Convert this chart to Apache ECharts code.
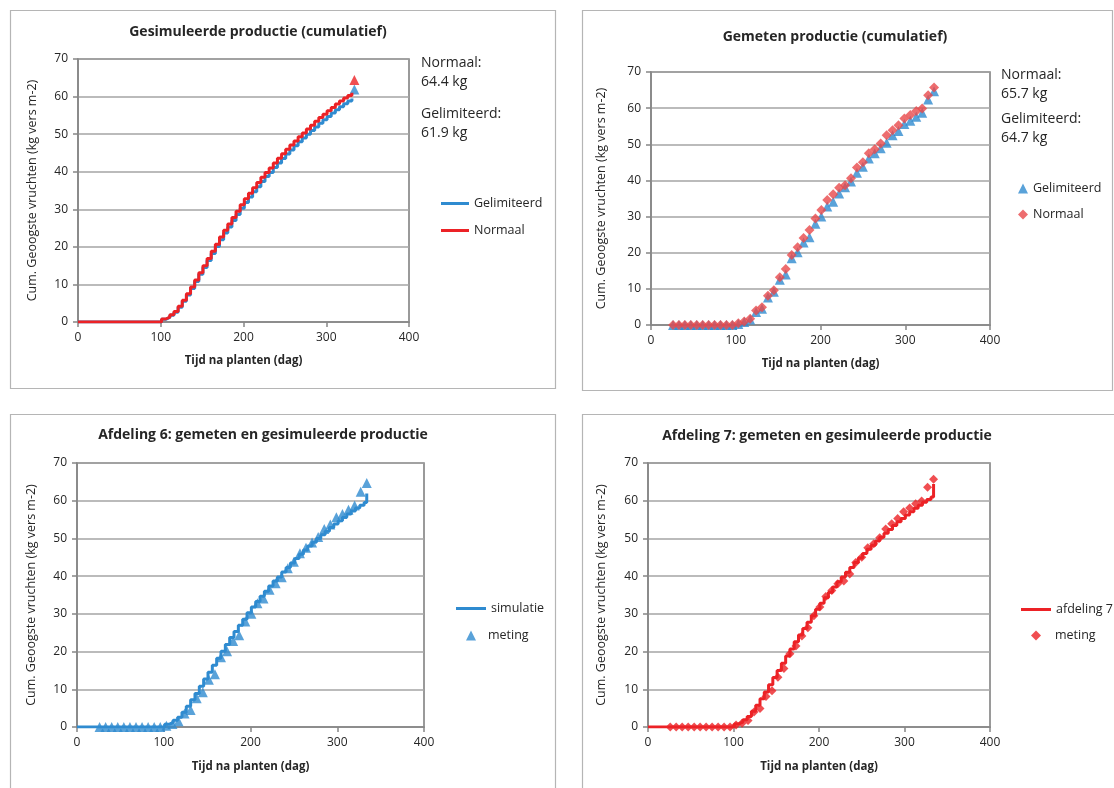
<!DOCTYPE html>
<html><head><meta charset="utf-8">
<script src="https://cdn.jsdelivr.net/npm/echarts@6/dist/echarts.min.js"></script>
<style>html,body{margin:0;padding:0;background:#fff}#c{width:1114px;height:788px}</style>
</head><body><div id="c"></div>
<script>
// ---- data ----
const xTicks = [0, 100, 200, 300, 400];
const yTicks = [0, 10, 20, 30, 40, 50, 60, 70];
// simulated cumulative harvest (stepwise, harvest every 5 days)
const simDays = [0,101,106,111,116,121,126,131,136,141,146,151,156,161,166,171,176,181,186,191,196,201,206,211,216,221,226,231,236,241,246,251,256,261,266,271,276,281,286,291,296,301,306,311,316,321,326,331];
const simNormaal = [0,0.8,1.3,1.9,2.8,4.2,5.8,7.5,9.3,11.2,13.1,15.0,16.9,18.8,20.7,22.6,24.4,26.1,27.8,29.5,31.2,32.8,34.3,35.7,37.1,38.5,39.8,41.0,42.3,43.6,44.8,46.0,47.1,48.2,49.3,50.3,51.4,52.4,53.4,54.4,55.3,56.2,57.1,58.0,58.8,59.6,60.3,61.0];
const simGelimiteerd = [0,0.7,1.2,1.8,2.6,3.9,5.5,7.2,8.9,10.8,12.7,14.5,16.4,18.2,20.1,21.9,23.7,25.3,27.0,28.6,30.3,31.8,33.3,34.7,36.0,37.4,38.7,39.8,41.1,42.3,43.5,44.7,45.8,46.9,48.0,49.0,50.0,51.0,51.9,52.9,53.8,54.7,55.6,56.5,57.3,58.1,58.8,59.5];
const finalDay = 334;
const finalNormaal = 64.4;
const finalGelimiteerd = 61.9;
// measurements (weekly)
const metDays = [26,33,40,47,54,61,68,75,82,89,96,103,110,117,124,131,138,145,152,159,166,173,180,187,194,201,208,215,222,229,236,243,250,257,264,271,278,285,292,299,306,313,320,327,334];
const metNormaal = [0,0,0,0,0,0,0,0,0,0,0,0.5,1.0,1.7,4.0,4.9,8.1,9.6,13.2,15.5,19.4,21.5,24.1,26.3,29.5,31.8,34.6,36.2,38.0,38.7,40.6,43.6,45.0,47.5,48.6,50.2,52.5,53.9,55.3,57.1,58.1,59.2,59.9,63.6,65.7];
const metGelimiteerd = [0,0,0,0,0,0,0,0,0,0,0,0.3,0.8,1.5,3.6,4.5,7.6,9.2,12.5,14.0,18.5,20.1,22.8,24.3,28.0,30.0,32.8,34.1,36.4,38.1,39.7,42.1,43.8,46.1,47.5,48.9,50.4,52.5,53.7,55.6,56.5,57.6,58.7,62.4,64.7];

const titles = ['Gesimuleerde productie (cumulatief)','Gemeten productie (cumulatief)','Afdeling 6: gemeten en gesimuleerde productie','Afdeling 7: gemeten en gesimuleerde productie'];
const xName = 'Tijd na planten (dag)';
const yName = 'Cum. Geoogste vruchten (kg vers m-2)';

// ---- helpers ----
const zip = (xs, ys) => xs.map((x, i) => [x, ys[i]]);
const FONT = 'Open Sans';
const TXT = '#262626';
const BLUE = '#2f8bd0', RED = '#ec2226', RED_M = '#e9484b';
const grids = [
  {left: 78, top: 59, width: 331, height: 263},
  {left: 651, top: 72, width: 339, height: 253},
  {left: 77, top: 463, width: 347, height: 264},
  {left: 648, top: 463, width: 342, height: 264}
];
const yGaps = [39, 43, 39, 40];
const xGaps = [33, 33, 34, 34];
const legText = {fontFamily: FONT, fontSize: 12.5, color: TXT};

const option = {
  animation: false,
  textStyle: {fontFamily: FONT},
  title: [
    {text: titles[0], left: 253, top: 20},
    {text: titles[1], left: 830, top: 25},
    {text: titles[2], left: 258, top: 423},
    {text: titles[3], left: 822, top: 424}
  ].map(t => Object.assign(t, {textAlign: 'center', textStyle: {fontFamily: FONT, fontWeight: 'bold', fontSize: 14, color: TXT}})),
  grid: grids.map(g => Object.assign({}, g, {show: true, borderColor: '#7a7a7a', borderWidth: 1.5, backgroundColor: 'transparent', containLabel: false})),
  xAxis: grids.map((g, i) => ({
    gridIndex: i, type: 'value', min: 0, max: 400, interval: 100,
    name: xName, nameLocation: 'middle', nameGap: xGaps[i],
    nameTextStyle: {fontFamily: FONT, fontWeight: 'bold', fontSize: 11.5, color: TXT},
    axisLine: {show: true, lineStyle: {color: '#868686', width: 1.5}},
    axisTick: {show: true, length: 5, lineStyle: {color: '#868686', width: 1.5}},
    axisLabel: {fontFamily: FONT, fontSize: 12, color: TXT, margin: 10},
    splitLine: {show: false}
  })),
  yAxis: grids.map((g, i) => ({
    gridIndex: i, type: 'value', min: 0, max: 70, interval: 10,
    name: yName, nameLocation: 'middle', nameGap: yGaps[i], nameRotate: 90,
    nameTextStyle: {fontFamily: FONT, fontSize: 12.5, color: TXT},
    axisLine: {show: true, lineStyle: {color: '#868686', width: 1.5}},
    axisTick: {show: true, length: 5, lineStyle: {color: '#868686', width: 1.5}},
    axisLabel: {fontFamily: FONT, fontSize: 12, color: TXT, margin: 10},
    splitLine: {show: true, lineStyle: {color: '#a4a4a4', width: 1.5}}
  })),
  legend: [
    {data: [{name: 'Gelimiteerd', icon: 'rect'}, {name: 'Normaal', icon: 'rect'}], left: 441, top: 197, padding: 0, orient: 'vertical', itemWidth: 28, itemHeight: 3, itemGap: 14, textStyle: legText},
    {data: [{name: 'Gelimiteerd ', icon: 'triangle'}, {name: 'Normaal ', icon: 'diamond'}], left: 1018, top: 182, padding: 0, orient: 'vertical', itemWidth: 10, itemHeight: 10, itemGap: 13, textStyle: legText},
    {data: [{name: 'simulatie', icon: 'rect'}], left: 456, top: 602, padding: 0, itemWidth: 30, itemHeight: 3, textStyle: legText},
    {data: [{name: 'meting', icon: 'triangle'}], left: 466, top: 629, padding: 0, itemWidth: 10, itemHeight: 10, textStyle: Object.assign({padding: [0, 0, 0, 7]}, legText)},
    {data: [{name: 'afdeling 7', icon: 'rect'}], left: 1021, top: 603, padding: 0, itemWidth: 30, itemHeight: 3, textStyle: legText},
    {data: [{name: 'meting ', icon: 'diamond'}], left: 1031, top: 629, padding: 0, itemWidth: 10, itemHeight: 10, textStyle: Object.assign({padding: [0, 0, 0, 9]}, legText)}
  ],
  series: [
    // panel 1
    {name: 'Gelimiteerd', type: 'line', xAxisIndex: 0, yAxisIndex: 0, data: zip(simDays, simGelimiteerd), step: 'end', symbol: 'none', lineStyle: {color: BLUE, width: 3}, itemStyle: {color: BLUE}},
    {name: 'Normaal', type: 'line', xAxisIndex: 0, yAxisIndex: 0, data: zip(simDays, simNormaal), step: 'end', symbol: 'none', lineStyle: {color: RED, width: 3}, itemStyle: {color: RED}},
    {type: 'scatter', xAxisIndex: 0, yAxisIndex: 0, data: [[finalDay, finalGelimiteerd]], symbol: 'triangle', symbolSize: 10, itemStyle: {color: BLUE}},
    {type: 'scatter', xAxisIndex: 0, yAxisIndex: 0, data: [[finalDay, finalNormaal]], symbol: 'triangle', symbolSize: 10, itemStyle: {color: RED}},
    // panel 2
    {name: 'Gelimiteerd ', type: 'scatter', xAxisIndex: 1, yAxisIndex: 1, data: zip(metDays, metGelimiteerd), symbol: 'triangle', symbolSize: 10, itemStyle: {color: BLUE}},
    {name: 'Normaal ', type: 'scatter', xAxisIndex: 1, yAxisIndex: 1, data: zip(metDays, metNormaal), symbol: 'diamond', symbolSize: 10, itemStyle: {color: RED_M}},
    // panel 3
    {name: 'simulatie', type: 'line', xAxisIndex: 2, yAxisIndex: 2, data: zip(simDays, simGelimiteerd).concat([[finalDay, finalGelimiteerd]]), step: 'end', symbol: 'none', lineStyle: {color: BLUE, width: 3}, itemStyle: {color: BLUE}},
    {name: 'meting', type: 'scatter', xAxisIndex: 2, yAxisIndex: 2, data: zip(metDays, metGelimiteerd), symbol: 'triangle', symbolSize: 10, itemStyle: {color: BLUE}},
    // panel 4
    {name: 'afdeling 7', type: 'line', xAxisIndex: 3, yAxisIndex: 3, data: zip(simDays, simNormaal).concat([[finalDay, finalNormaal]]), step: 'end', symbol: 'none', lineStyle: {color: RED, width: 3}, itemStyle: {color: RED}},
    {name: 'meting ', type: 'scatter', xAxisIndex: 3, yAxisIndex: 3, data: zip(metDays, metNormaal), symbol: 'diamond', symbolSize: 9, itemStyle: {color: RED}}
  ],
  graphic: [
    {type: 'rect', shape: {x: 10.5, y: 10.5, width: 545, height: 378}, style: {fill: 'none', stroke: '#b5b5b5', lineWidth: 1.2}, z: -1},
    {type: 'rect', shape: {x: 582.5, y: 10.5, width: 530, height: 380}, style: {fill: 'none', stroke: '#b5b5b5', lineWidth: 1.2}, z: -1},
    {type: 'rect', shape: {x: 10.5, y: 414.5, width: 545, height: 390}, style: {fill: 'none', stroke: '#b5b5b5', lineWidth: 1.2}, z: -1},
    {type: 'rect', shape: {x: 582.5, y: 414.5, width: 545, height: 390}, style: {fill: 'none', stroke: '#b5b5b5', lineWidth: 1.2}, z: -1},
    {type: 'text', left: 421, top: 54, style: {text: 'Normaal:\n64.4 kg', font: '14px "Open Sans"', fill: TXT, lineHeight: 19}},
    {type: 'text', left: 421, top: 105, style: {text: 'Gelimiteerd:\n61.9 kg', font: '14px "Open Sans"', fill: TXT, lineHeight: 19}},
    {type: 'text', left: 1001, top: 66, style: {text: 'Normaal:\n65.7 kg', font: '14px "Open Sans"', fill: TXT, lineHeight: 19}},
    {type: 'text', left: 1001, top: 110, style: {text: 'Gelimiteerd:\n64.7 kg', font: '14px "Open Sans"', fill: TXT, lineHeight: 19}}
  ]
};
const chart = echarts.init(document.getElementById('c'), null, {renderer: 'canvas'});
chart.setOption(option);
</script></body></html>
